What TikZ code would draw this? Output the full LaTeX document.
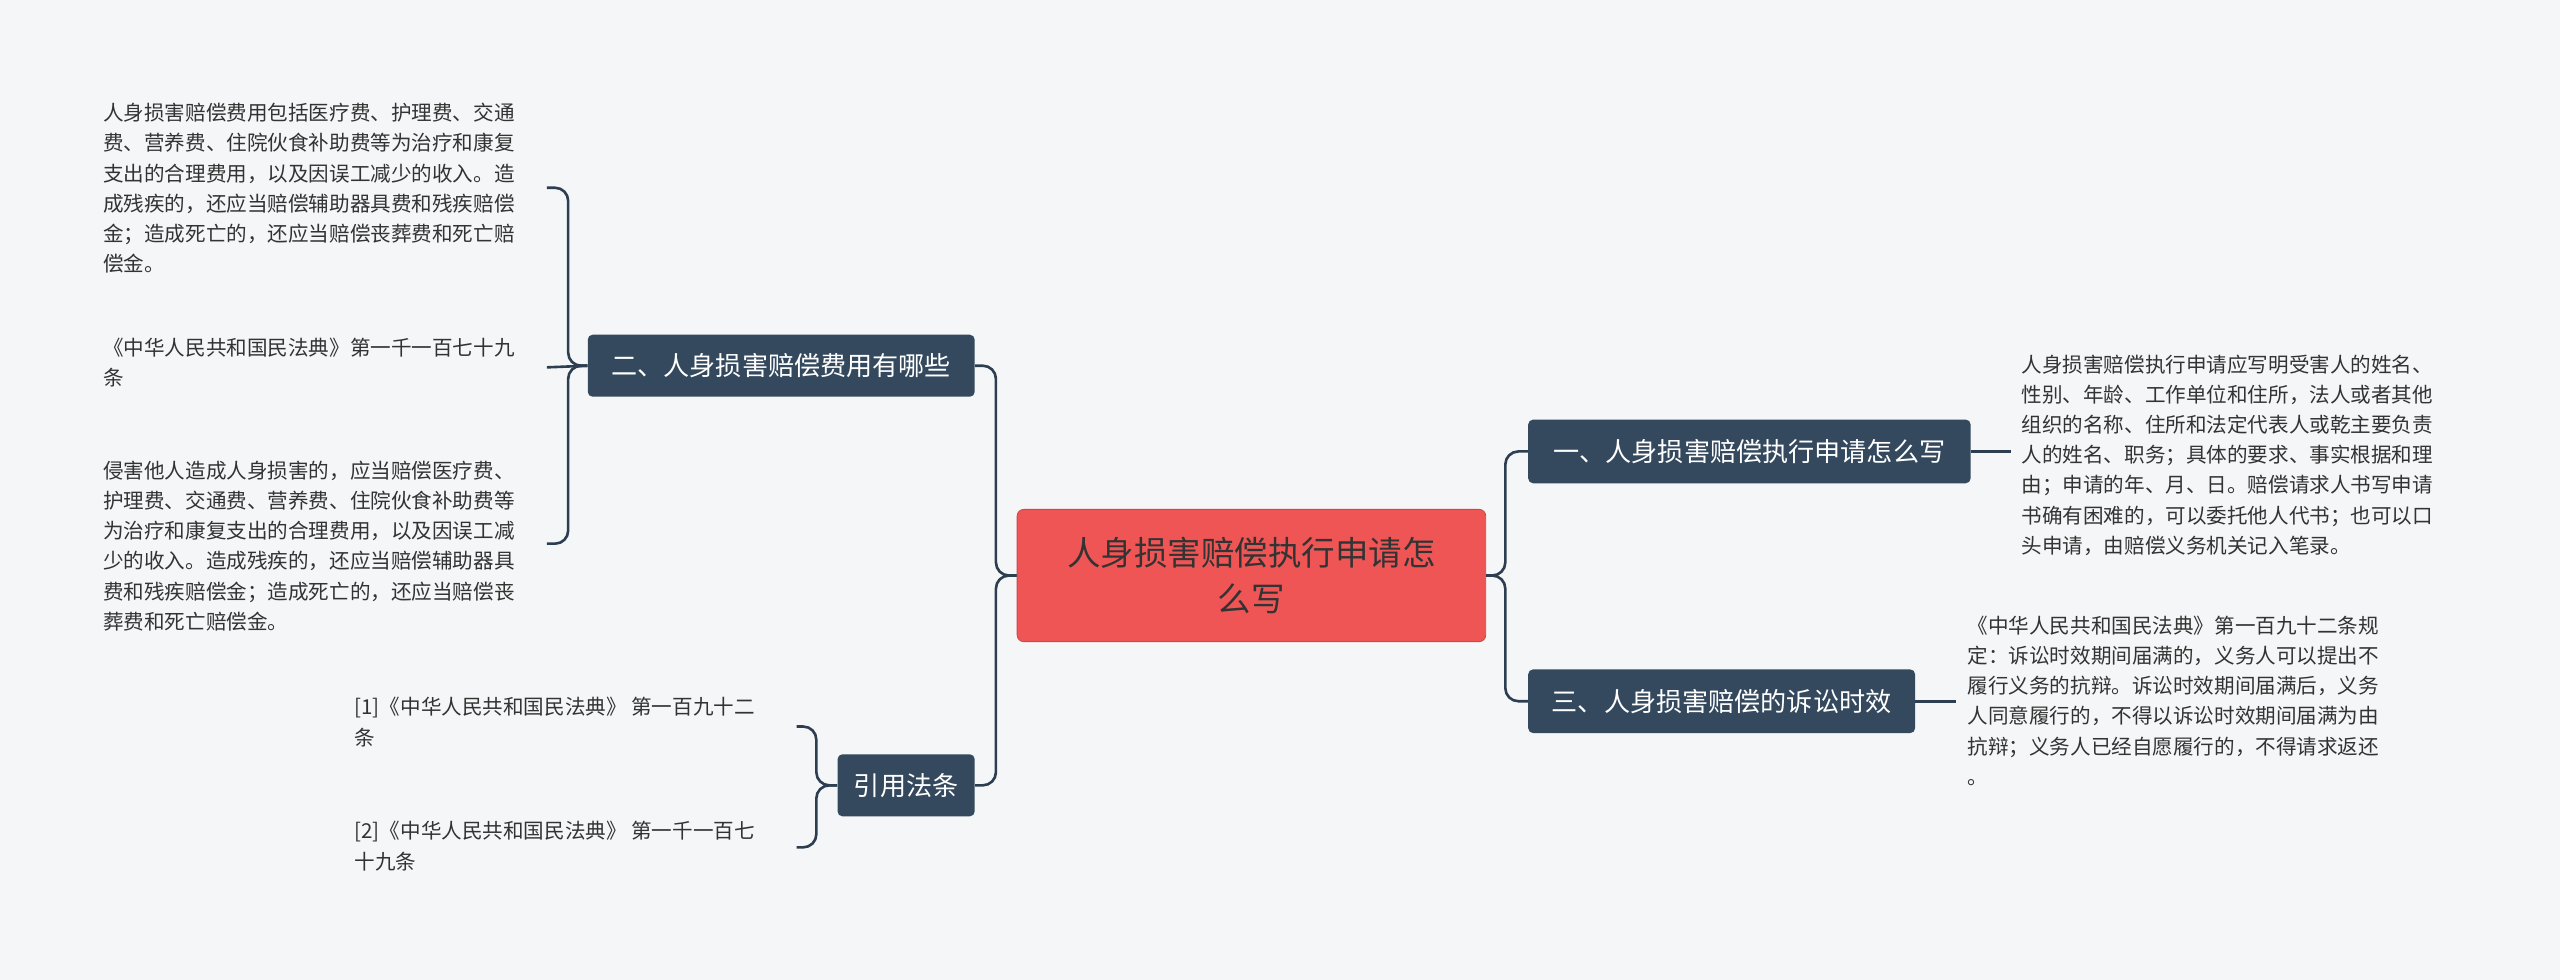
\documentclass[tikz,border=0pt]{standalone}
\usepackage{fontspec}
\setmainfont{Noto Sans CJK SC}
\begin{document}
\begin{tikzpicture}[x=1pt,y=-1pt,
  line/.style={draw=conn,line width=1.6pt,rounded corners=8pt},
  sub/.style={fill=subc,rounded corners=3pt,text=white,font=\fontsize{16}{20}\selectfont,inner sep=0pt,align=center},
  txt/.style={anchor=north west,inner sep=0pt,align=left,text=tcol,font=\fontsize{12.6}{18.5}\selectfont}]
\definecolor{conn}{HTML}{2C3E50}
\definecolor{subc}{HTML}{34495E}
\definecolor{tcol}{HTML}{333333}
\definecolor{bg}{HTML}{F5F6F7}
\definecolor{rootc}{HTML}{EF5555}
\fill[bg] (0,0) rectangle (1568,600);
\useasboundingbox (0,0) rectangle (1568,600);
% root
\node[fill=rootc,draw=rootc!85!black,line width=0.5pt,rounded corners=4pt,minimum width=287pt,minimum height=81pt,inner sep=0pt,align=center,text=tcol,font=\fontsize{20.5}{28}\selectfont] (root) at (766.5,352.5) {人身损害赔偿执行申请怎\\么写};
% subs
\node[sub,minimum width=271pt,minimum height=39pt] (r1) at (1071.5,276.5) {一、人身损害赔偿执行申请怎么写};
\node[sub,minimum width=237pt,minimum height=39pt] (r2) at (1054.5,429.5) {三、人身损害赔偿的诉讼时效};
\node[sub,minimum width=237pt,minimum height=38pt] (l1) at (478.5,224) {二、人身损害赔偿费用有哪些};
\node[sub,minimum width=84pt,minimum height=38pt] (l2) at (555,481) {引用法条};
% texts
\node[txt] (t1) at (63,63) {人身损害赔偿费用包括医疗费、护理费、交通\\费、营养费、住院伙食补助费等为治疗和康复\\支出的合理费用，以及因误工减少的收入。造\\成残疾的，还应当赔偿辅助器具费和残疾赔偿\\金；造成死亡的，还应当赔偿丧葬费和死亡赔\\偿金。};
\node[txt] (t2) at (63,207) {《中华人民共和国民法典》第一千一百七十九\\条};
\node[txt] (t3) at (63,282) {侵害他人造成人身损害的，应当赔偿医疗费、\\护理费、交通费、营养费、住院伙食补助费等\\为治疗和康复支出的合理费用，以及因误工减\\少的收入。造成残疾的，还应当赔偿辅助器具\\费和残疾赔偿金；造成死亡的，还应当赔偿丧\\葬费和死亡赔偿金。};
\node[txt] (t4) at (217,427) {[1]《中华人民共和国民法典》 第一百九十二\\条};
\node[txt] (t5) at (217,503) {[2]《中华人民共和国民法典》 第一千一百七\\十九条};
\node[txt] (t6) at (1238,217) {人身损害赔偿执行申请应写明受害人的姓名、\\性别、年龄、工作单位和住所，法人或者其他\\组织的名称、住所和法定代表人或乾主要负责\\人的姓名、职务；具体的要求、事实根据和理\\由；申请的年、月、日。赔偿请求人书写申请\\书确有困难的，可以委托他人代书；也可以口\\头申请，由赔偿义务机关记入笔录。};
\node[txt] (t7) at (1205,377) {《中华人民共和国民法典》第一百九十二条规\\定：诉讼时效期间届满的，义务人可以提出不\\履行义务的抗辩。诉讼时效期间届满后，义务\\人同意履行的，不得以诉讼时效期间届满为由\\抗辩；义务人已经自愿履行的，不得请求返还\\。};
% end coordinates
\coordinate (e1) at (335,115);
\coordinate (e2) at (335,225);
\coordinate (e3) at (335,333);
\coordinate (e4) at (488,445);
\coordinate (e5) at (488,519);
\coordinate (e6) at (1232,276.5);
\coordinate (e7) at (1198,429.5);
% connectors
\draw[line] (root.east) -- (922,352.5) |- (r1.west);
\draw[line] (root.east) -- (922,352.5) |- (r2.west);
\draw[line] (root.west) -- (610,352.5) |- (l1.east);
\draw[line] (root.west) -- (610,352.5) |- (l2.east);
\draw[line] (l1.west) -- (348,224) |- (e1);
\draw[line] (l1.west) -- (e2);
\draw[line] (l1.west) -- (348,224) |- (e3);
\draw[line] (l2.west) -- (500,481) |- (e4);
\draw[line] (l2.west) -- (500,481) |- (e5);
\draw[line] (r1.east) -- (e6);
\draw[line] (r2.east) -- (e7);
\end{tikzpicture}
\end{document}
